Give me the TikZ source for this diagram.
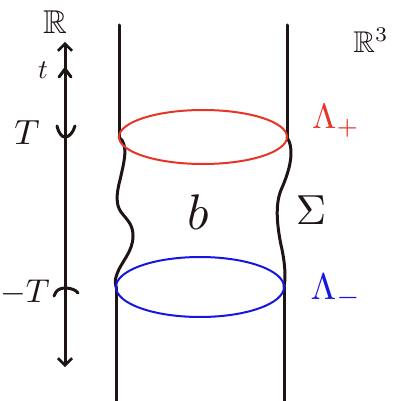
\documentclass[tikz,border=0pt]{standalone}
\usepackage{amssymb, amsmath}
\usepackage{tikz}
\usetikzlibrary{arrows.meta}
\definecolor{ink}{RGB}{30, 20, 20}
\definecolor{redink}{RGB}{232, 52, 38}
\definecolor{blueink}{RGB}{22, 22, 222}
\newcommand{\hand}[2]{\scalebox{#1}{#2}}

\begin{document}
\begin{tikzpicture}[x=1pt, y=-1pt,
  pen/.style={ink, line width=3, line cap=round, line join=round},
  >={Straight Barb[length=7pt, width=14pt, line width=2.6pt]}]

  \pgfmathsetmacro{\xl}{119};
  \pgfmathsetmacro{\xr}{287};
  \pgfmathsetmacro{\yp}{137};
  \pgfmathsetmacro{\ym}{287};

  \useasboundingbox (0, 0) rectangle (392, 401);

  % cylinder walls, above and below
  \draw[pen] (\xl, 25) -- (\xl, \yp);
  \draw[pen] (\xr, 25) -- (\xr, \yp);
  \draw[pen] (116, \ym) -- (116, 401);
  \draw[pen] (284, \ym) -- (284, 401);

  % wavy cobordism
  \draw[pen] (\xl, \yp) .. controls (129, 145) and (124, 162) .. (120, 180)
    .. controls (116, 195) and (116, 205) .. (121, 212)
    .. controls (127, 220) and (133, 224) .. (133, 236)
    .. controls (133, 252) and (121, 262) .. (117, 274)
    .. controls (115, 280) .. (116, \ym);
  \draw[pen] (\xr, \yp) .. controls (295, 150) and (290, 170) .. (281, 190)
    .. controls (275, 205) and (277, 225) .. (281, 245)
    .. controls (285, 262) and (286, 278) .. (284, \ym);

  % ends
  \draw[redink, line width=2] (203, \yp) ellipse (84 and 27);
  \draw[blueink, line width=2] (200, \ym) ellipse (84 and 30);

  % time axis
  \draw[pen, <->] (65, 367) -- (65, 42);
  \draw[pen] (59, 77) -- (65, 69) -- (71, 77);
  \draw[pen] (57, 126) .. controls (59, 134) and (62, 137) .. (65, 137)
    .. controls (69, 137) and (73, 133) .. (75, 126);
  \draw[pen] (54, 296) .. controls (56, 290) and (60, 288) .. (65, 288)
    .. controls (71, 288) and (76, 290) .. (78, 293);

  \node[ink] (axislabel) at (55, 22) {\hand{3.3}{$\mathbb{R}$}};
  \node[ink] (tlabel) at (43, 70) {\hand{2.7}{$t$}};
  \node[ink] (plusT) at (27, 133) {\hand{3.5}{$T$}};
  \node[ink] (minusT) at (25, 293) {\hand{3.3}{$-T$}};
  \node[ink] (space) at (371, 40) {\hand{3}{$\mathbb{R}^{3}$}};

  \node[redink] (lamplus) at (336, 121) {\hand{3.5}{$\Lambda_{+}$}};
  \node[blueink] (lamminus) at (336, 291) {\hand{3.7}{$\Lambda_{-}$}};
  \node[ink] (sigma) at (311, 210) {\hand{4.2}{$\Sigma$}};
  \node[ink] (bulk) at (198, 212) {\hand{5}{$b$}};

\end{tikzpicture}
\end{document}
